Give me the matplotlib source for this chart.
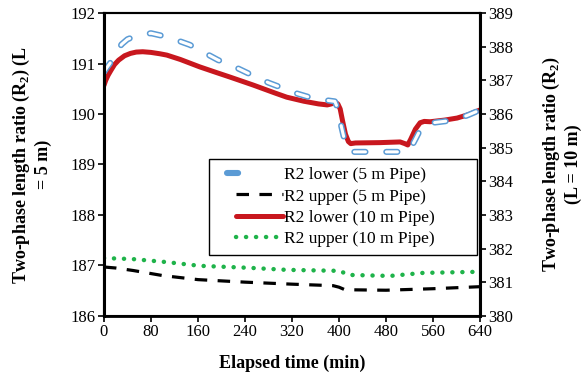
import numpy as np
import matplotlib
matplotlib.use("Agg")
import matplotlib.pyplot as plt
from matplotlib.lines import Line2D
from matplotlib.legend_handler import HandlerLine2D, HandlerTuple

plt.rcParams["font.family"] = "Liberation Serif"
plt.rcParams["mathtext.fontset"] = "custom"
plt.rcParams["mathtext.rm"] = "Liberation Serif"
plt.rcParams["mathtext.bf"] = "Liberation Serif:bold"
plt.rcParams["lines.scale_dashes"] = False

# R2 lower, 5 m pipe (left axis)
t_low5 = [0, 5, 10, 20, 30, 40, 55, 80, 110, 146, 170, 194, 225, 252, 280, 305, 330, 359, 380,
          393, 398, 404, 410, 415, 422, 470, 516, 521, 530, 541, 555, 597, 620, 640]
r_low5 = [190.83, 190.92, 191.0, 191.2, 191.38, 191.48, 191.55, 191.6, 191.52, 191.37, 191.22,
          191.07, 190.92, 190.77, 190.62, 190.51, 190.4, 190.3, 190.27, 190.25, 190.1, 189.75,
          189.45, 189.3, 189.25, 189.25, 189.25, 189.3, 189.5, 189.75, 189.82, 189.88, 189.98, 190.08]

# R2 upper, 5 m pipe (left axis)
t_up5 = [0, 20, 50, 100, 160, 240, 320, 390, 400, 410, 480, 560, 640]
r_up5 = [186.97, 186.95, 186.9, 186.8, 186.72, 186.67, 186.63, 186.6, 186.57, 186.52, 186.51, 186.54, 186.58]

# R2 lower, 10 m pipe (right axis)
t_low10 = [0, 3, 7, 12, 18, 25, 35, 45, 55, 66, 80, 95, 107, 130, 163, 190, 214, 254, 290, 311,
           340, 365, 380, 387, 393, 398, 402, 406, 411, 416, 420, 428, 470, 504, 512, 517, 522,
           530, 538, 545, 555, 580, 601, 620, 640]
r_low10 = [386.85, 387.0, 387.15, 387.3, 387.47, 387.6, 387.73, 387.8, 387.84, 387.85, 387.83,
           387.79, 387.75, 387.62, 387.4, 387.24, 387.1, 386.86, 386.63, 386.5, 386.38, 386.3,
           386.27, 386.3, 386.35, 386.3, 386.15, 385.8, 385.4, 385.18, 385.12, 385.14, 385.15,
           385.17, 385.12, 385.08, 385.25, 385.55, 385.74, 385.78, 385.77, 385.82, 385.88,
           385.98, 386.12]

# R2 upper, 10 m pipe (right axis)
t_up10 = [0, 49, 107, 163, 248, 311, 402, 415, 487, 543, 631, 640]
r_up10 = [381.72, 381.69, 381.6, 381.49, 381.43, 381.37, 381.34, 381.22, 381.19, 381.28, 381.31, 381.31]

x_ticks = [0, 80, 160, 240, 320, 400, 480, 560, 640]
labels = ["R2 lower (5 m Pipe)", "R2 upper (5 m Pipe)",
          "R2 lower (10 m Pipe)", "R2 upper (10 m Pipe)"]

BLUE_OUT = dict(color="#5b9bd5", lw=4.4, dashes=(8, 15), dash_capstyle="round")
BLUE_IN = dict(color="white", lw=2.2, dashes=(8, 15), dash_capstyle="round")
BLACK = dict(color="black", lw=2.3, dashes=(9, 7.5))
RED = dict(color="#c8171e", lw=3.6, solid_capstyle="round", solid_joinstyle="round")
GREEN = dict(color="#1fb34a", lw=3.2, dashes=(0.1, 7.1), dash_capstyle="round")


class ShiftedLine(HandlerLine2D):
    # handle drawn only in the right part of the handle box
    def get_xdata(self, legend, xdescent, ydescent, width, height, fontsize):
        x = np.array([-xdescent + width * 0.3, -xdescent + width])
        return x, x


fig = plt.figure(figsize=(5.84, 3.83), dpi=100)
ax = fig.add_axes([0.178, 0.175, 0.644, 0.791])
ax2 = ax.twinx()

ax.plot(t_low5, r_low5, **BLUE_OUT)
ax.plot(t_low5, r_low5, **BLUE_IN)
ax.plot(t_up5, r_up5, **BLACK)
ax2.plot(t_low10, r_low10, **RED)
ax2.plot(t_up10, r_up10, **GREEN)

ax.set_xlim(0, 640)
ax.set_ylim(186, 192)
ax2.set_ylim(380, 389)
ax.set_xticks(x_ticks)
ax.set_yticks(range(186, 193))
ax2.set_yticks(range(380, 390))

for a in (ax, ax2):
    a.tick_params(labelsize=12, direction="out", length=4, width=1.2, pad=2)
    for s in a.spines.values():
        s.set_linewidth(1.5)
ax.spines["left"].set_linewidth(2.2)
ax2.spines["right"].set_linewidth(2.2)
ax.spines["bottom"].set_linewidth(2.0)

ax.set_xlabel("Elapsed time (min)", fontsize=13, fontweight="bold", labelpad=10)
ax.set_ylabel("Two-phase length ratio (R$_\\mathbf{2}$) (L\n= 5 m)",
              fontsize=13, fontweight="bold", labelpad=13, linespacing=1.2)
ax2.set_ylabel("Two-phase length ratio (R$_\\mathbf{2}$)\n(L = 10 m)",
               fontsize=13, fontweight="bold", labelpad=20, linespacing=1.2)

ax2.set_zorder(ax.zorder - 1)
ax.patch.set_visible(False)

handles = [(Line2D([], [], **BLUE_OUT), Line2D([], [], **BLUE_IN)),
           Line2D([], [], **BLACK), Line2D([], [], **RED), Line2D([], [], **GREEN)]
leg = ax.legend(handles, labels,
                handler_map={Line2D: ShiftedLine(), tuple: HandlerTuple(ndivide=None, pad=0)},
                loc="lower left", bbox_to_anchor=(0.279, 0.201, 0.713, 0.311),
                mode="expand", borderaxespad=0, fontsize=12.5, handlelength=3.8,
                handletextpad=0.05, borderpad=0.45, labelspacing=0.3, fancybox=False,
                framealpha=1, edgecolor="black")
leg.get_frame().set_linewidth(1.0)

fig.savefig("out.png", dpi=100)
